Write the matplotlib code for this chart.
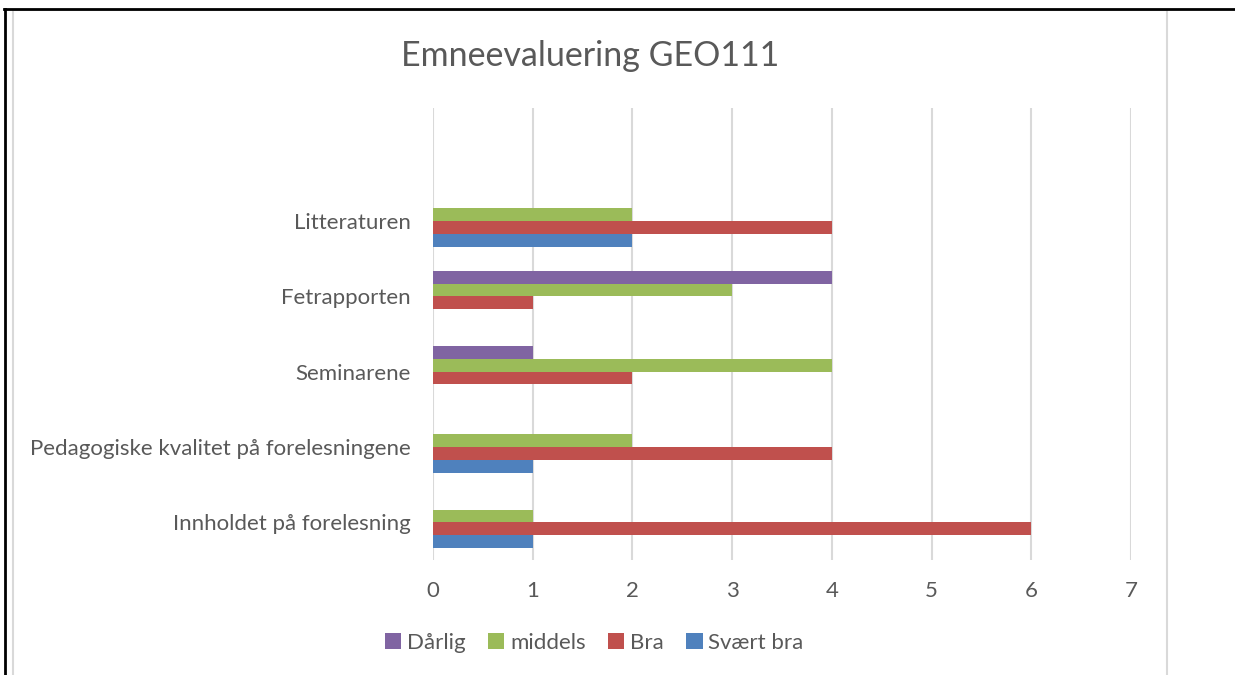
import numpy as np
import matplotlib.pyplot as plt
from matplotlib.lines import Line2D
from matplotlib.patches import Rectangle

# Data
categories = ['Innholdet på forelesning', 'Pedagogiske kvalitet på forelesningene',
              'Seminarene', 'Fetrapporten', 'Litteraturen', '']
series = ['Svært bra', 'Bra', 'middels', 'Dårlig']
svaert_bra = [1, 1, 0, 0, 2, 0]
bra = [6, 4, 2, 1, 4, 0]
middels = [1, 2, 4, 3, 2, 0]
darlig = [0, 0, 1, 4, 0, 0]
colors = ['#4F81BD', '#C0504D', '#9BBB59', '#8064A2']
xticks = [0, 1, 2, 3, 4, 5, 6, 7]

plt.rcParams['font.family'] = ['Lato', 'DejaVu Sans']
text_col = '#595959'
grid_col = '#D9D9D9'

W, H = 1235, 675
fig = plt.figure(figsize=(W / 100, H / 100), dpi=100)
ax = fig.add_axes([433 / W, 1 - 560 / H, (1131 - 433) / W, (560 - 108) / H])

y = np.arange(len(categories))
bh = 0.17
values = [svaert_bra, bra, middels, darlig]
for i, (vals, name, c) in enumerate(zip(values, series, colors)):
    ax.barh(y + (i - 1.5) * bh, vals, height=bh, color=c, label=name, zorder=3)

ax.set_xlim(0, 7)
ax.set_ylim(-0.5, len(categories) - 0.5)
ax.set_xticks(xticks)
ax.set_yticks(y[:-1])
ax.set_yticklabels(categories[:-1])
ax.tick_params(length=0, labelsize=16, colors=text_col)
ax.tick_params(axis='x', pad=15)
ax.tick_params(axis='y', pad=16)
ax.grid(axis='x', color=grid_col, linewidth=1.5, zorder=0)
for s in ax.spines.values():
    s.set_visible(False)

fig.text(590 / W, 1 - 56 / H, 'Emneevaluering GEO111', ha='center', va='center',
         fontsize=24.5, color=text_col)

# legend in reverse order like the reference
handles, labels = ax.get_legend_handles_labels()
fig.legend(handles[::-1], labels[::-1], loc='center', bbox_to_anchor=(594 / W, 1 - 643 / H),
           ncol=4, frameon=False, fontsize=16, labelcolor=text_col,
           handlelength=0.75, handleheight=0.75, handletextpad=0.25, columnspacing=1.0)

# frames around the chart
fig.add_artist(Rectangle((13 / W, -0.01), (1167 - 13) / W, (1 - 10 / H) + 0.01,
                         transform=fig.transFigure, fill=False, edgecolor=grid_col, linewidth=1.5))
fig.add_artist(Line2D([4 / W, 1], [1 - 9 / H, 1 - 9 / H], color='black', linewidth=2,
                      transform=fig.transFigure))
fig.add_artist(Line2D([5 / W, 5 / W], [0, 1 - 9 / H], color='black', linewidth=2,
                      transform=fig.transFigure))

fig.savefig('out.png', dpi=100)
